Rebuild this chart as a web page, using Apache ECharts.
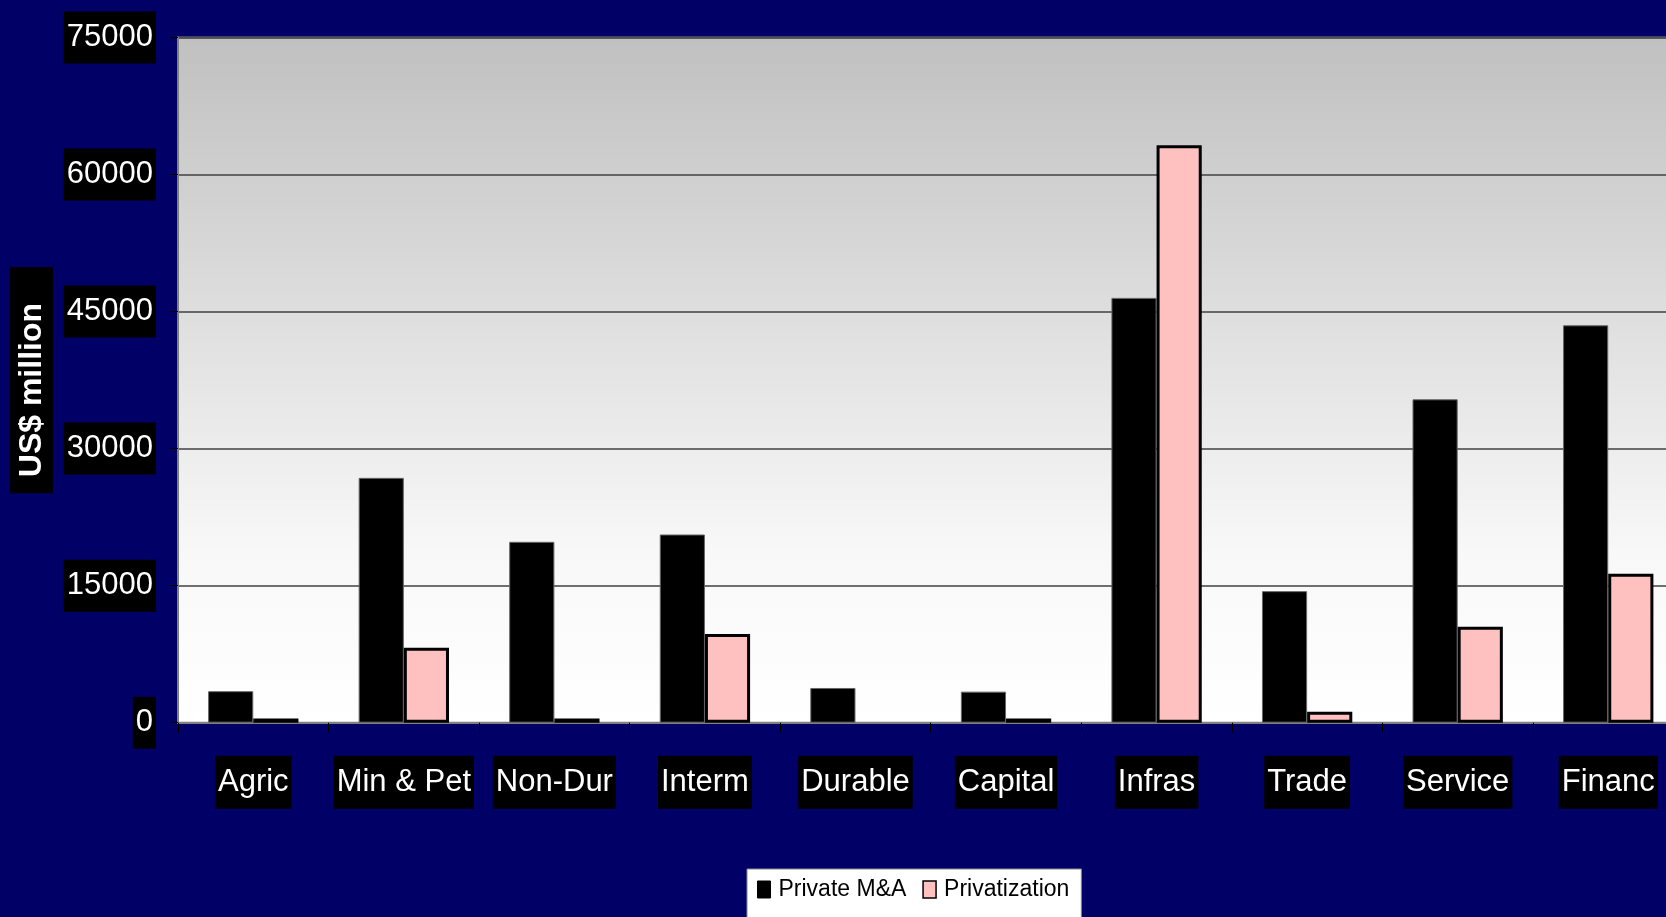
<!DOCTYPE html>
<html><head><meta charset="utf-8">
<script src="https://cdn.jsdelivr.net/npm/echarts@6/dist/echarts.min.js"></script>
<style>html,body{margin:0;padding:0;background:#000066;}#c{width:1666px;height:917px;}</style>
</head><body><div id="c"></div>
<script>
const categories = ['Agric', 'Min & Pet', 'Non-Dur', 'Interm', 'Durable', 'Capital', 'Infras', 'Trade', 'Service', 'Financ'];
const seriesNames = ['Private M&A', 'Privatization'];
const privateMA = [3450, 26800, 19800, 20600, 3800, 3400, 46500, 14400, 35400, 43500];
const privatization = [450, 8200, 450, 9700, 0, 450, 63200, 1200, 10500, 16300];
const yMin = 0, yMax = 75000, yStep = 15000;
const yTitle = 'US$ million';

const FONT = "'Liberation Sans', Arial, sans-serif";
const chart = echarts.init(document.getElementById('c'));
chart.setOption({
  backgroundColor: '#000066',
  animation: false,
  grid: {
    left: 178, top: 37.5, right: -17.5, bottom: 194.3,
    outerBoundsMode: 'none',
    containLabel: false,
    show: true,
    borderColor: '#808080', borderWidth: 2,
    backgroundColor: new echarts.graphic.LinearGradient(0, 0, 0, 1, [
      {offset: 0, color: '#c0c0c0'},
      {offset: 0.75, color: '#f8f8f8'},
      {offset: 1, color: '#ffffff'}
    ])
  },
  legend: {
    left: 747, top: 869,
    padding: [9, 12, 30, 10],
    backgroundColor: '#ffffff',
    borderColor: '#888', borderWidth: 1,
    itemGap: 16, itemWidth: 13, itemHeight: 17,
    textStyle: {fontFamily: FONT, fontSize: 23, color: '#000', padding: [0, 0, 0, 3]},
    data: [
      {name: seriesNames[0], icon: 'rect', itemStyle: {color: '#000', borderColor: '#000', borderWidth: 1}},
      {name: seriesNames[1], icon: 'rect', itemStyle: {color: '#ffc0c0', borderColor: '#000', borderWidth: 1.5}}
    ]
  },
  xAxis: {
    type: 'category',
    data: categories,
    axisLine: {show: true, lineStyle: {color: '#808080', width: 2}},
    axisTick: {show: true, length: 10, lineStyle: {color: '#000', width: 1}},
    axisLabel: {
      color: '#fff', backgroundColor: '#000',
      fontFamily: FONT, fontSize: 31, lineHeight: 42,
      padding: [6, 3, 5, 3], margin: 33, interval: 0
    }
  },
  yAxis: {
    type: 'value', min: yMin, max: yMax, interval: yStep,
    name: yTitle, nameLocation: 'middle', nameRotate: 90, nameGap: 118,
    nameTextStyle: {
      color: '#fff', backgroundColor: '#000', fontWeight: 'bold',
      fontFamily: FONT, fontSize: 32, lineHeight: 36,
      padding: [4, 36, 3, 16]
    },
    axisLine: {show: true, lineStyle: {color: '#808080', width: 2}},
    axisTick: {show: true, length: 8, lineStyle: {color: '#000', width: 1}},
    splitLine: {show: true, lineStyle: {color: '#404040', width: 1.5}},
    axisLabel: {
      color: '#fff', backgroundColor: '#000',
      fontFamily: FONT, fontSize: 31, lineHeight: 42,
      padding: [5, 3, 5, 3], margin: 22,
      formatter: v => String(v)
    }
  },
  series: [
    {
      name: seriesNames[0], type: 'bar', data: privateMA,
      barGap: '0%', barCategoryGap: '40%',
      itemStyle: {color: '#000', borderColor: '#666', borderWidth: 1}
    },
    {
      name: seriesNames[1], type: 'bar',
      data: privatization.map(v => v === 0 ? {value: v, itemStyle: {borderWidth: 0}} : v),
      barGap: '0%', barCategoryGap: '40%',
      itemStyle: {color: '#ffc0c0', borderColor: '#000', borderWidth: 3}
    }
  ]
});
</script>
</body></html>
